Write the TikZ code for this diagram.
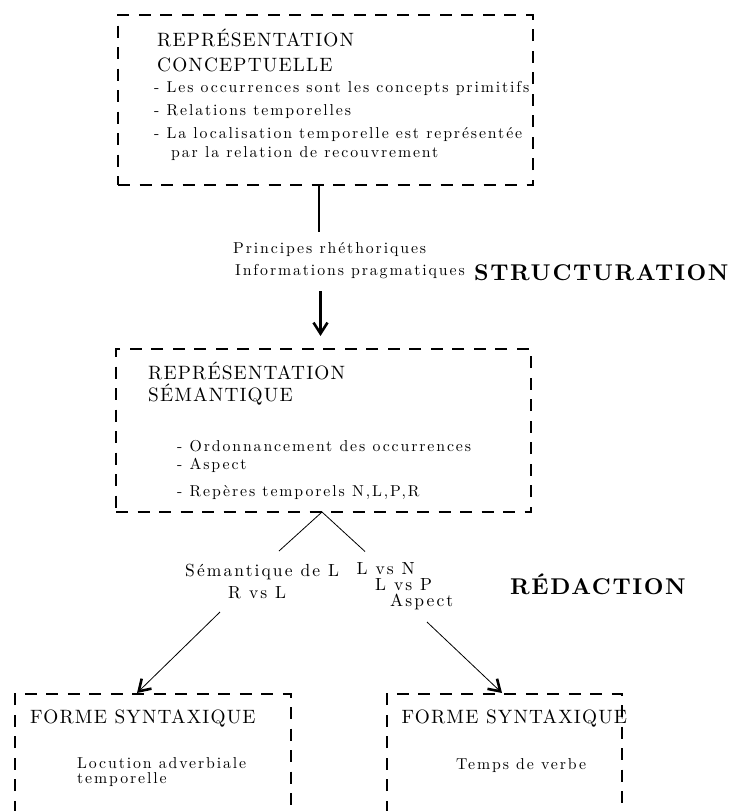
\documentclass[tikz,border=0pt]{standalone}
\usepackage{fontspec}
\usetikzlibrary{arrows.meta}
\newfontfamily\bodyf{lmroman10-regular.otf}[LetterSpace=12]
\newfontfamily\titlef{lmroman10-regular.otf}[LetterSpace=6]
\newfontfamily\boldf{lmroman10-bold.otf}[LetterSpace=7]
\tikzset{
  dline/.style={line width=2pt, dash pattern=on 12pt off 9.5pt},
  dbox/.style={draw, dline, rectangle, inner sep=0pt},
  ghost/.style={rectangle, inner sep=0pt},
  body/.style={anchor=base west, inner sep=0pt, font=\bodyf\fontsize{15.8}{19}\selectfont},
  lbl/.style={anchor=base west, inner sep=0pt, font=\bodyf\fontsize{17.5}{21}\selectfont},
  ttl/.style={anchor=base west, inner sep=0pt, font=\titlef\fontsize{19.3}{23}\selectfont},
  bigb/.style={anchor=base west, inner sep=0pt, font=\boldf\fontsize{22.8}{27}\selectfont},
  thinl/.style={line width=0.8pt},
  heavyarrow/.style={-{Straight Barb[length=11pt,width=14pt,line width=2.6pt]}}
}
\begin{document}
\begin{tikzpicture}[x=1pt,y=-1pt]
\useasboundingbox (0,0) rectangle (730,811);
\clip (0,0) rectangle (730,811);
% boxes
\node[dbox, minimum width=415pt, minimum height=170pt] (b1) at (325.5,100) {};
\node[dbox, minimum width=415pt, minimum height=163pt] (b2) at (323.5,430.5) {};
\node[ghost, minimum width=276pt, minimum height=140pt] (b3) at (153,764) {};
\node[ghost, minimum width=235pt, minimum height=140pt] (b4) at (504.5,764) {};
\draw[dline] (b3.south west) -- (b3.north west) -- (b3.north east) -- (b3.south east);
\draw[dline] (b4.south west) -- (b4.north west) -- (b4.north east) -- (b4.south east);
% box 1 texts
\node[ttl] (t1a) at (157,46) {REPRÉSENTATION};
\node[ttl] (t1b) at (157,71.5) {CONCEPTUELLE};
\node[body] (t1c) at (154,92) {- Les occurrences sont les concepts primitifs};
\node[body] (t1d) at (154,115) {- Relations temporelles};
\node[body] (t1e) at (154,138) {- La localisation temporelle est représentée};
\node[body] (t1f) at (171,157) {par la relation de recouvrement};
% structuration
\node[body] (s1) at (233,253) {Principes rhéthoriques};
\node[body] (s2) at (235,275) {Informations pragmatiques};
\node[bigb] (s3) at (474,280) {STRUCTURATION};
\coordinate (c1) at (319,232);
\coordinate (a1s) at (320.5,291);
\coordinate (a1e) at (320.5,336);
\draw[line width=2.6pt] (c1 |- b1.south) -- (c1);
\draw[line width=2.2pt, heavyarrow] (a1s) -- (a1e);
% box 2 texts
\node[ttl] (t2a) at (148,379) {REPRÉSENTATION};
\node[ttl] (t2b) at (148,401.5) {SÉMANTIQUE};
\node[body] (t2c) at (177,451.5) {- Ordonnancement des occurrences};
\node[body] (t2d) at (177,469) {- Aspect};
\node[body] (t2e) at (177,496) {- Repères temporels N,L,P,R};
% redaction
\coordinate (apex) at (322,512);
\coordinate (yl) at (279,551);
\coordinate (yr) at (365,551.5);
\draw[thinl] (yl) -- (apex) -- (yr);
\node[lbl] (r1) at (185,576.5) {Sémantique de L};
\node[lbl] (r2) at (228,598) {R vs L};
\node[lbl] (r3) at (356.5,574) {L vs N};
\node[lbl] (r4) at (375,590.5) {L vs P};
\node[lbl] (r5) at (390,606.5) {Aspect};
\node[bigb] (r6) at (510,594) {RÉDACTION};
\coordinate (la) at (220,612);
\coordinate (lt) at (137,693);
\coordinate (ra) at (427,622);
\coordinate (rt) at (502,693);
\draw[thinl, heavyarrow] (la) -- (lt);
\draw[thinl, heavyarrow] (ra) -- (rt);
% bottom boxes
\node[ttl] (f1) at (30,723) {FORME SYNTAXIQUE};
\node[body] (f2) at (77,768) {Locution adverbiale};
\node[body] (f3) at (77,783) {temporelle};
\node[ttl] (g1) at (401.5,723) {FORME SYNTAXIQUE};
\node[body] (g2) at (456,769) {Temps de verbe};
\end{tikzpicture}
\end{document}
